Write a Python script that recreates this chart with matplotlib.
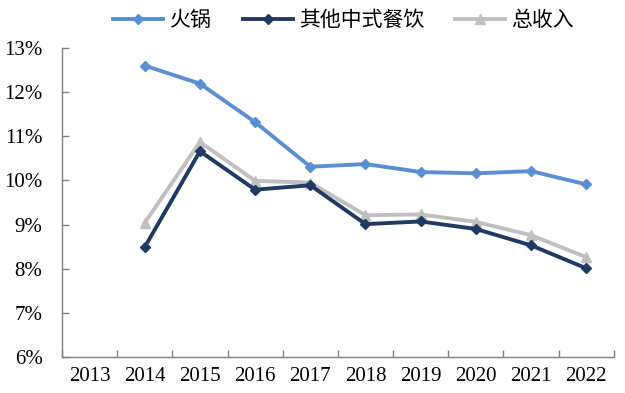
import matplotlib
matplotlib.use("Agg")
import matplotlib.pyplot as plt

# -----------------------------
# Data
# -----------------------------
years = ["2013", "2014", "2015", "2016", "2017", "2018", "2019", "2020", "2021", "2022"]
data_years = years[1:]

hotpot = [12.60, 12.19, 11.32, 10.31, 10.37, 10.19, 10.16, 10.21, 9.91]
other_chinese = [8.49, 10.66, 9.79, 9.89, 9.01, 9.07, 8.90, 8.53, 8.01]
total_revenue = [9.04, 10.87, 9.99, 9.95, 9.21, 9.23, 9.06, 8.76, 8.26]

series_names = ["火锅", "其他中式餐饮", "总收入"]

# -----------------------------
# Plot
# -----------------------------
plt.rcParams["font.family"] = ["Liberation Serif", "Noto Sans CJK SC"]

fig = plt.figure(figsize=(6.25, 3.93), dpi=100)
ax = fig.add_axes([0.0992, 0.0916, 0.8828, 0.7864])

x_all = range(len(years))
x_data = [years.index(y) for y in data_years]

ax.plot(x_data, hotpot, color="#5B8FD3", lw=2.8, marker="D", ms=5.5,
        label=series_names[0])
ax.plot(x_data, other_chinese, color="#1F3A63", lw=2.8, marker="D", ms=5.5,
        label=series_names[1])
ax.plot(x_data, total_revenue, color="#C0C0C0", lw=2.8, marker="^", ms=7,
        label=series_names[2], zorder=1)

ax.set_xlim(-0.5, len(years) - 0.5)
ax.set_ylim(6, 13)

ax.set_xticks(list(x_all))
ax.set_xticklabels(years, fontsize=15)
ax.set_xticks([i + 0.5 for i in range(-1, len(years))], minor=True)
ax.tick_params(axis="x", which="major", length=0, pad=7)
ax.tick_params(axis="x", which="minor", direction="in", length=5,
               width=1, color="#808080")

ax.set_yticks(range(6, 14))
ax.set_yticklabels([f"{v}%" for v in range(6, 14)], fontsize=15)
ax.tick_params(axis="y", direction="in", length=5, width=1,
               color="#808080", pad=14)

for side in ["top", "right"]:
    ax.spines[side].set_visible(False)
for side in ["left", "bottom"]:
    ax.spines[side].set_color("#808080")
    ax.spines[side].set_linewidth(1)

leg = fig.legend(loc="upper center", bbox_to_anchor=(0.55, 1.025), ncol=3,
                 frameon=False, handlelength=2.4,
                 columnspacing=1.5, handletextpad=0.3,
                 prop={"family": ["Noto Sans CJK SC"], "size": 15})

fig.savefig("out.png", dpi=100)
